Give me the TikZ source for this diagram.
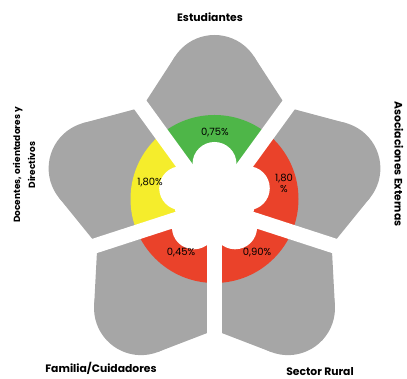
\documentclass[tikz,border=0pt]{standalone}
\usepackage{fontspec}
\setmainfont{Poppins}
\definecolor{petal}{RGB}{166,166,166}
\definecolor{segg}{RGB}{78,182,72}
\definecolor{segy}{RGB}{245,237,44}
\definecolor{segr}{RGB}{234,66,42}
\tikzset{
  petalfill/.style={fill=petal},
  gapline/.style={draw=white, line width=15pt},
  title/.style={font=\fontsize{10.8}{12}\selectfont\bfseries, inner sep=0pt, align=center},
  pct/.style={font=\fontsize{10}{11}\selectfont, inner sep=0pt, align=center}
}
\newcommand{\petalshape}[1]{%
  \begin{scope}[rotate=#1]
    \fill[petalfill] (0,0) -- (99.7,72.4) -- (150.6,39.4) -- (150.6,-39.4) -- (99.7,-72.4) -- cycle;
    \fill[petalfill] (125,0) circle (47pt);
  \end{scope}}
\newcommand{\ringseg}[3]{%
  \begin{scope}
    \clip (0,0) -- (#1:300) -- ({(#1+#2)/2}:400) -- (#2:300) -- cycle;
    \fill[#3] (0,8) circle (84pt);
  \end{scope}}
\begin{document}
\begin{tikzpicture}[x=1pt,y=1pt]
\useasboundingbox (0,0) rectangle (407,379);
\begin{scope}[shift={(214.5,172)}]
  % petals
  \petalshape{90}
  \petalshape{18}
  \petalshape{-54}
  \petalshape{-126}
  \petalshape{162}
  % ring segments
  \ringseg{54}{126}{segg}
  \ringseg{-18}{54}{segr}
  \ringseg{-90}{-18}{segr}
  \ringseg{-162}{-90}{segr}
  \ringseg{126}{198}{segy}
  % central flower hole
  \begin{scope}[shift={(0,8)}]
    \fill[white] (0,0) circle (41pt);
    \foreach \a in {90,18,-54,-126,162}
      \fill[white] (\a:35) circle (22pt);
  \end{scope}
  % gaps
  \foreach \a in {126,54,-18,-90,198}
    \coordinate (g\a) at (\a:260);
  \coordinate (gc) at (0,0);
  \foreach \a in {126,54,-18,-90,198}
    \draw[gapline] (gc) -- (g\a);
\end{scope}
% labels
\node[title] (est) at (210,362) {Estudiantes};
\node[title, font=\fontsize{9}{15}\selectfont\bfseries, rotate=90] (doc) at (24,214) {Docentes, orientadores y\\Directivos};
\node[title, rotate=-90] (aso) at (399,215) {Asociaciones Externas};
\node[title] (fam) at (101,11) {Familia/Cuidadores};
\node[title] (sec) at (320,7) {Sector Rural};
\node[pct] (p1) at (215,246) {0,75\%};
\node[pct] (p2) at (150,196) {1,80\%};
\node[pct] (p3) at (284,196) {1,80\\\%};
\node[pct] (p4) at (181,126) {0,45\%};
\node[pct] (p5) at (257,126) {0,90\%};
\end{tikzpicture}
\end{document}
